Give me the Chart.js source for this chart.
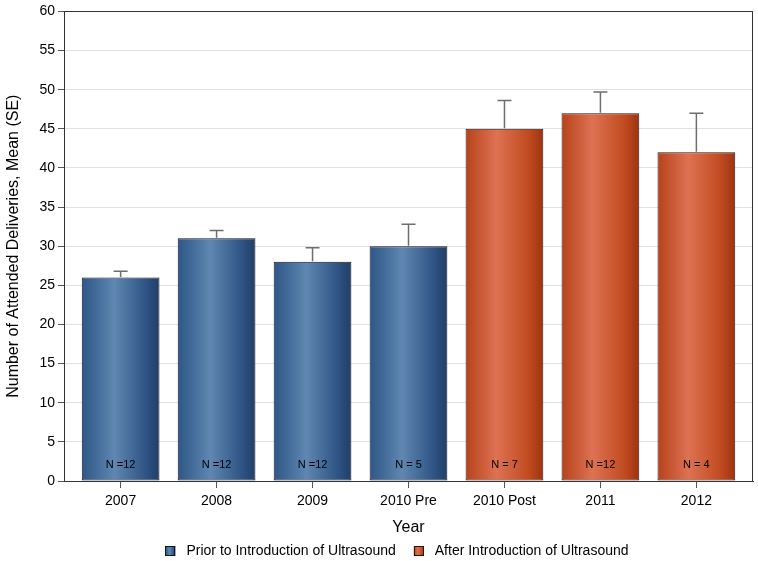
<!DOCTYPE html>
<html>
<head>
<meta charset="utf-8">
<script src="https://cdn.jsdelivr.net/npm/chart.js@4/dist/chart.umd.min.js"></script>
<style>
html,body{margin:0;padding:0;background:#fff;}
#wrap{width:758px;height:561px;}
</style>
</head>
<body>
<div id="wrap"><canvas id="c" width="758" height="561"></canvas></div>
<script>
const categories = ["2007", "2008", "2009", "2010 Pre", "2010 Post", "2011", "2012"];
const priorIdx = [0, 1, 2, 3];
const afterIdx = [4, 5, 6];
const means = [26, 31, 28, 30, 45, 47, 42];
const upperSE = [26.8, 32.0, 29.8, 32.8, 48.6, 49.7, 47.0];
const nLabels = ["N =12", "N =12", "N =12", "N = 5", "N = 7", "N =12", "N = 4"];
const yTicks = [0, 5, 10, 15, 20, 25, 30, 35, 40, 45, 50, 55, 60];
const seriesNames = ["Prior to Introduction of Ultrasound", "After Introduction of Ultrasound"];

const FONT = "'Liberation Sans', Arial, sans-serif";
const blueStops = [[0, '#2e5687'], [0.42, '#5f87b1'], [0.82, '#2f5485'], [1, '#213e66']];
const orangeStops = [[0, '#b7421a'], [0.4, '#de7253'], [0.82, '#c04a1f'], [1, '#9a3412']];
const borderCols = ['#11161e', '#2a140c'];

function makeGrad(c, x0, x1, stops) {
  const g = c.createLinearGradient(x0, 0, x1, 0);
  stops.forEach(s => g.addColorStop(s[0], s[1]));
  return g;
}

function barGradient(ctx, stops, solid) {
  const chart = ctx.chart;
  const xs = chart.scales.x;
  const raw = ctx.raw;
  if (!xs || !chart.chartArea || !raw || xs.width <= 0) return solid;
  const cx = xs.getPixelForValue(raw.x);
  const half = (xs.getPixelForValue(1) - xs.getPixelForValue(0)) * 0.81 / 2;
  return makeGrad(chart.ctx, cx - half, cx + half, stops);
}

const priorData = priorIdx.map(i => ({x: i, y: means[i]}));
const afterData = afterIdx.map(i => ({x: i, y: means[i]}));

const extras = {
  id: 'extras',
  afterDatasetsDraw(chart) {
    const {ctx, scales: {x, y}, chartArea} = chart;
    ctx.save();
    ctx.strokeStyle = '#6e6e6e';
    ctx.lineWidth = 1.5;
    categories.forEach((c, i) => {
      const px = x.getPixelForValue(i);
      const top = y.getPixelForValue(upperSE[i]);
      const base = y.getPixelForValue(means[i]) - 0.5;
      ctx.beginPath();
      ctx.moveTo(px, base);
      ctx.lineTo(px, top);
      ctx.moveTo(px - 7, top);
      ctx.lineTo(px + 7, top);
      ctx.stroke();
    });
    ctx.fillStyle = '#000';
    ctx.font = "11px " + FONT;
    ctx.textAlign = 'center';
    ctx.textBaseline = 'middle';
    categories.forEach((c, i) => {
      ctx.fillText(nLabels[i], x.getPixelForValue(i), y.getPixelForValue(2));
    });
    ctx.strokeStyle = '#333';
    ctx.lineWidth = 1;
    ctx.strokeRect(Math.round(chartArea.left) + 0.5, Math.round(chartArea.top) + 0.5,
      Math.round(chartArea.right - chartArea.left) - 1, Math.round(chartArea.bottom - chartArea.top));
    ctx.restore();
  },
  afterDraw(chart) {
    const {ctx} = chart;
    ctx.save();
    ctx.font = "14px " + FONT;
    ctx.textBaseline = 'middle';
    ctx.textAlign = 'left';
    const box = 10, gapText = 11, gapItem = 18;
    const widths = seriesNames.map(s => ctx.measureText(s).width);
    const total = widths.reduce((a, w) => a + box + gapText + w, 0) + gapItem;
    let xPos = 397 - total / 2;
    const yc = 551;
    const stopsArr = [blueStops, orangeStops];
    seriesNames.forEach((s, i) => {
      ctx.fillStyle = makeGrad(ctx, xPos, xPos + box, stopsArr[i]);
      ctx.fillRect(xPos, yc - box / 2, box, box);
      ctx.strokeStyle = borderCols[i];
      ctx.lineWidth = 1;
      ctx.strokeRect(Math.round(xPos) + 0.5, Math.round(yc - box / 2) + 0.5, box - 1, box - 1);
      ctx.fillStyle = '#000';
      ctx.fillText(s, xPos + box + gapText, yc);
      xPos += box + gapText + widths[i] + gapItem;
    });
    ctx.restore();
  }
};

new Chart(document.getElementById('c'), {
  type: 'bar',
  data: {
    datasets: [
      {
        label: seriesNames[0],
        data: priorData,
        backgroundColor: ctx => barGradient(ctx, blueStops, '#4a72a0'),
        borderColor: borderCols[0],
        borderWidth: 1,
        borderSkipped: false,
        barPercentage: 0.81,
        categoryPercentage: 1,
        grouped: false
      },
      {
        label: seriesNames[1],
        data: afterData,
        backgroundColor: ctx => barGradient(ctx, orangeStops, '#cf5a32'),
        borderColor: borderCols[1],
        borderWidth: 1,
        borderSkipped: false,
        barPercentage: 0.81,
        categoryPercentage: 1,
        grouped: false
      }
    ]
  },
  options: {
    responsive: false,
    animation: false,
    layout: {padding: {top: 9, right: 5, left: 4, bottom: 22}},
    plugins: {
      tooltip: {enabled: false},
      legend: {display: false}
    },
    scales: {
      x: {
        type: 'linear',
        offset: false,
        min: -0.59,
        max: 6.59,
        afterBuildTicks: s => { s.ticks = categories.map((c, i) => ({value: i})); },
        ticks: {
          callback: v => categories[v],
          font: {family: FONT, size: 14},
          color: '#000',
          padding: 5,
          autoSkip: false,
          maxRotation: 0
        },
        grid: {display: true, offset: false, drawOnChartArea: false, tickLength: 7, tickColor: '#555', tickWidth: 1},
        border: {display: true, color: '#333'},
        title: {display: true, text: 'Year', font: {family: FONT, size: 16}, color: '#000', padding: {top: 3, bottom: 2}}
      },
      y: {
        min: 0,
        max: 60,
        afterBuildTicks: s => { s.ticks = yTicks.map(v => ({value: v})); },
        afterFit: s => { s.width = 60; },
        ticks: {font: {family: FONT, size: 14}, color: '#000', padding: 3},
        grid: {color: '#e2e2e2', tickLength: 6, tickColor: '#555', lineWidth: 1},
        border: {display: true, color: '#333'},
        title: {display: true, text: 'Number of Attended Deliveries, Mean (SE)', font: {family: FONT, size: 16}, color: '#000', padding: {top: 0, bottom: 4}}
      }
    }
  },
  plugins: [extras]
});
</script>
</body>
</html>
